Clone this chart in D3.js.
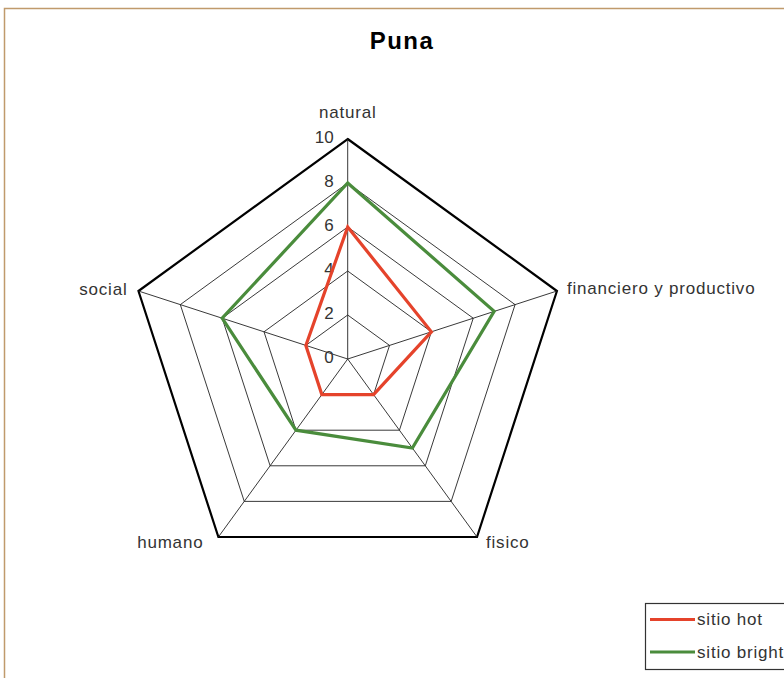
<!DOCTYPE html>
<html>
<head>
  <meta charset="utf-8">
  <script src="https://d3js.org/d3.v7.min.js"></script>
  <style>
    body { margin: 0; background: #fff; }
    svg text { font-family: "Liberation Sans", Arial, sans-serif; fill: #222; }
  </style>
</head>
<body>
<script>
  "use strict";

  /*
    Chart data
  */
  var axes = ["natural", "financiero y productivo", "fisico", "humano", "social"];
  var sitioHot = [6, 4, 2, 2, 2];
  var sitioBright = [8, 7, 5, 4, 6];
  var ticks = [0, 2, 4, 6, 8, 10];
  var seriesNames = ["sitio hot", "sitio bright"];
  var seriesColors = ["#e5432b", "#4a8c3c"];

  var width = 784, height = 678;
  var cx = 347.7, cy = 359, radius = 220;

  var svg = d3.select("body").append("svg")
      .attr("width", width)
      .attr("height", height);

  // outer frame (cut by the picture on the right and bottom)
  svg.append("rect")
      .attr("x", 4.5).attr("y", 8.5)
      .attr("width", 820).attr("height", 700)
      .attr("fill", "none")
      .attr("stroke", "#c09a6c")
      .attr("stroke-width", 1.5);

  svg.append("text")
      .attr("x", 402).attr("y", 49)
      .attr("text-anchor", "middle")
      .style("font-size", "24px")
      .style("font-weight", "bold")
      .style("letter-spacing", "1.5px")
      .style("fill", "#000")
      .text("Puna");

  var g = svg.append("g").attr("transform", "translate(" + cx + "," + cy + ")");

  var r = d3.scaleLinear().domain([0, 10]).range([0, radius]);
  var angle = d3.scaleLinear().domain([0, axes.length]).range([0, 2 * Math.PI]);

  function pt(i, v) {
    var a = angle(i);
    return [Math.sin(a) * r(v), -Math.cos(a) * r(v)];
  }

  /*
    Grid: rings and spokes
  */
  var ringLine = d3.lineRadial()
      .angle(function(d, i) { return angle(i); })
      .radius(function(d) { return r(d); })
      .curve(d3.curveLinearClosed);

  ticks.filter(function(t) { return t > 0; }).forEach(function(t) {
    g.append("path")
        .attr("d", ringLine(axes.map(function() { return t; })))
        .attr("fill", "none")
        .attr("stroke", t === 10 ? "#000" : "#222")
        .attr("stroke-width", t === 10 ? 2.2 : 0.9);
  });

  axes.forEach(function(name, i) {
    var p = pt(i, 10);
    g.append("line")
        .attr("x1", 0).attr("y1", 0)
        .attr("x2", p[0]).attr("y2", p[1])
        .attr("stroke", "#222")
        .attr("stroke-width", 0.9);
  });

  // tick labels up the first axis
  g.selectAll(".tick")
    .data(ticks)
    .enter().append("text")
      .attr("class", "tick")
      .attr("x", -14)
      .attr("y", function(d) { return -r(d) - 2; })
      .attr("dy", "0.35em")
      .attr("text-anchor", "end")
      .style("font-size", "17px")
      .style("fill", "#333")
      .text(function(d) { return d; });

  // axis labels
  axes.forEach(function(name, i) {
    var p = pt(i, 10);
    var a = angle(i), anchor, x = p[0], y = p[1];
    if (i === 0) { anchor = "middle"; y -= 27; }
    else if (Math.sin(a) > 0) { anchor = "start"; x += (i === 1 ? 10 : 9); y += (i === 1 ? -3 : 5); }
    else { anchor = "end"; x -= (i === 3 ? 15 : 11); y += (i === 3 ? 5 : -2); }
    g.append("text")
        .attr("x", x).attr("y", y)
        .attr("dy", "0.35em")
        .attr("text-anchor", anchor)
        .style("font-size", "17px")
        .style("letter-spacing", "0.8px")
        .style("fill", "#333")
        .text(name);
  });

  /*
    Series
  */
  [sitioHot, sitioBright].forEach(function(vals, k) {
    g.append("path")
        .attr("d", ringLine(vals))
        .attr("fill", "none")
        .attr("stroke", seriesColors[k])
        .attr("stroke-width", 3.2)
        .attr("stroke-linejoin", "miter");
  });

  /*
    Legend
  */
  var legend = svg.append("g").attr("transform", "translate(645,603)");
  legend.append("rect")
      .attr("x", 0.5).attr("y", 0.5)
      .attr("width", 200).attr("height", 66)
      .attr("fill", "#fff")
      .attr("stroke", "#333")
      .attr("stroke-width", 1.2);

  seriesNames.forEach(function(name, k) {
    var yy = 16.5 + k * 32.5;
    legend.append("line")
        .attr("x1", 5).attr("x2", 50)
        .attr("y1", yy).attr("y2", yy)
        .attr("stroke", seriesColors[k])
        .attr("stroke-width", 3.2);
    legend.append("text")
        .attr("x", 52).attr("y", yy)
        .attr("dy", "0.35em")
        .style("font-size", "17px")
        .style("letter-spacing", "0.8px")
        .style("fill", "#333")
        .text(name);
  });
</script>
</body>
</html>
